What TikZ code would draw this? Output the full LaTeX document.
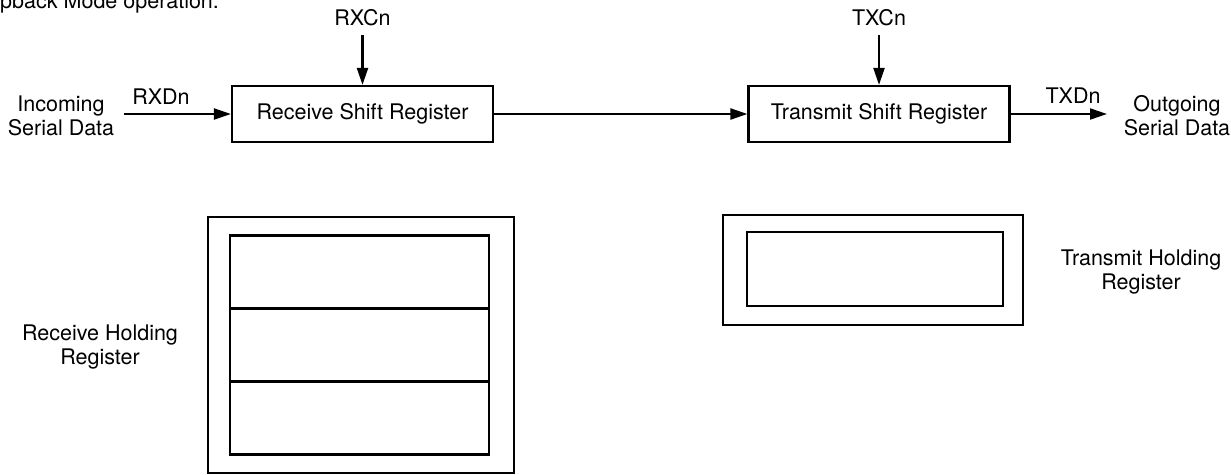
\documentclass[tikz,border=0pt]{standalone}
\usepackage{fontspec}
\setmainfont{TeX Gyre Heros}
\usetikzlibrary{arrows.meta,positioning}

\begin{document}
\begin{tikzpicture}[
    x=1pt,y=-1pt,
    font=\fontsize{21.5}{24}\selectfont,
    reg/.style={draw,line width=2.2pt,minimum width=261pt,minimum height=56pt,inner sep=0pt},
    cell/.style={draw,line width=2.2pt,inner sep=0pt},
    lbl/.style={align=center,inner sep=0pt},
    arrow/.style={-{Triangle[length=17pt,width=11pt]},line width=2.2pt}
  ]
    \useasboundingbox (0,0) rectangle (1231,474);
    \clip (0,0) rectangle (1231,474);
    \node[anchor=base west,inner sep=0pt] (title) at (0,8) {pback Mode operation.};
    % shift registers
    \node[reg] (rsr) at (362.5,114) {Receive Shift Register};
    \node[reg] (tsr) at (879,114) {Transmit Shift Register};
    \node[lbl] (incoming) at (61,116) {Incoming\\Serial Data};
    \node[lbl] (outgoing) at (1177,116) {Outgoing\\Serial Data};
    \node[lbl,anchor=base] (rxd) at (161,104) {RXDn};
    \node[lbl,anchor=base] (txd) at (1073,103) {TXDn};
    \node[lbl,anchor=base] (rxc) at (362.5,25) {RXCn};
    \node[lbl,anchor=base] (txc) at (879,25) {TXCn};
    \coordinate (rxdin) at (124,114);
    \coordinate (txdout) at (1107,114);
    \coordinate (rxcin) at (362.5,35);
    \coordinate (txcin) at (879,35);
    \draw[arrow] (rxdin) -- (rsr.west);
    \draw[arrow] (rsr.east) -- (tsr.west);
    \draw[arrow] (tsr.east) -- (txdout);
    \draw[arrow] (rxcin) -- (rsr.north);
    \draw[arrow] (txcin) -- (tsr.north);
    % holding registers
    \node[cell,minimum width=306pt,minimum height=256pt] (rhr) at (361,345) {};
    \node[cell,minimum width=259pt,minimum height=73pt] (rhra) at (359.5,272) {};
    \node[cell,minimum width=259pt,minimum height=73pt] (rhrb) at (359.5,345) {};
    \node[cell,minimum width=259pt,minimum height=73pt] (rhrc) at (359.5,418) {};
    \node[lbl] (rhrlbl) at (100,347) {Receive Holding\\Register};
    \node[cell,minimum width=300pt,minimum height=110pt] (thr) at (873,270) {};
    \node[cell,minimum width=256pt,minimum height=74pt] (thra) at (875,269) {};
    \node[lbl] (thrlbl) at (1141,272) {Transmit Holding\\Register};
  \end{tikzpicture}
\end{document}
